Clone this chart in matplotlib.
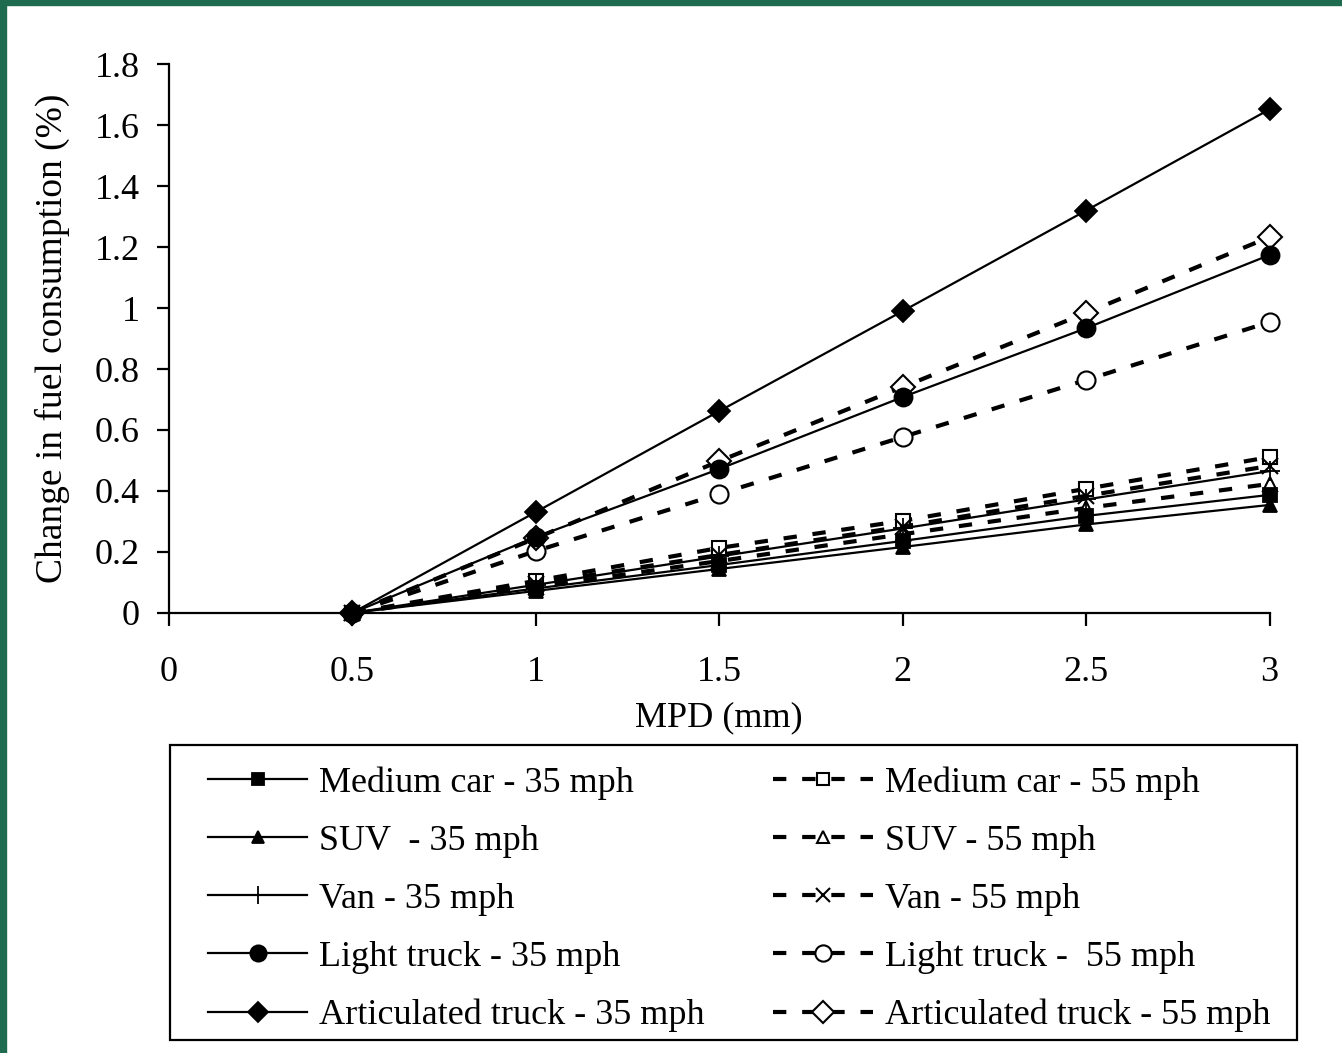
import numpy as np
import matplotlib.pyplot as plt
from matplotlib.patches import Rectangle

plt.rcParams['font.family'] = ['Liberation Serif', 'DejaVu Serif']

mpd = [0.5, 1, 1.5, 2, 2.5, 3]

# 35 mph series
medium_car_35 = [0.0, 0.080, 0.157, 0.236, 0.318, 0.387]
suv_35 = [0.0, 0.072, 0.144, 0.216, 0.290, 0.354]
van_35 = [0.0, 0.092, 0.185, 0.277, 0.372, 0.465]
light_truck_35 = [0.0, 0.249, 0.472, 0.708, 0.934, 1.174]
artic_truck_35 = [0.0, 0.331, 0.662, 0.990, 1.320, 1.652]

# 55 mph series
medium_car_55 = [0.0, 0.105, 0.213, 0.302, 0.407, 0.511]
suv_55 = [0.0, 0.085, 0.170, 0.258, 0.344, 0.423]
van_55 = [0.0, 0.096, 0.190, 0.283, 0.384, 0.482]
light_truck_55 = [0.0, 0.203, 0.390, 0.577, 0.764, 0.954]
artic_truck_55 = [0.0, 0.245, 0.498, 0.741, 0.984, 1.233]

labels_35 = ['Medium car - 35 mph', 'SUV  - 35 mph', 'Van - 35 mph',
             'Light truck - 35 mph', 'Articulated truck - 35 mph']
labels_55 = ['Medium car - 55 mph', 'SUV - 55 mph', 'Van - 55 mph',
             'Light truck -  55 mph', 'Articulated truck - 55 mph']

y_ticks = [0, 0.2, 0.4, 0.6, 0.8, 1, 1.2, 1.4, 1.6, 1.8]
x_ticks = [0, 0.5, 1, 1.5, 2, 2.5, 3]

series_35 = [medium_car_35, suv_35, van_35, light_truck_35, artic_truck_35]
series_55 = [medium_car_55, suv_55, van_55, light_truck_55, artic_truck_55]
markers = ['s', '^', '+', 'o', 'D']
msizes = [9.5, 10, 14, 13, 11.5]
# light truck on top so its dot shows at the shared 0.5 point
z_35 = [3.0, 3.0, 3.0, 3.2, 3.1]

fig = plt.figure(figsize=(13.42, 10.53), dpi=100)
ax = fig.add_axes([0.126, 0.418, 0.820, 0.521])

handles = {}
open_markers = ['s', '^', 'x', 'o', 'D']
open_sizes = [9.5, 10, 11, 13, 12]
for ys, lab, m, ms in zip(series_55, labels_55, open_markers, open_sizes):
    h, = ax.plot(mpd, ys, color='black', lw=3.0, dashes=(3.2, 3.8),
                 marker=m, markersize=ms, markerfacecolor='white',
                 markeredgecolor='black', mew=1.5, clip_on=False, zorder=2)
    handles[lab] = h

for ys, lab, m, ms, z in zip(series_35, labels_35, markers, msizes, z_35):
    h, = ax.plot(mpd, ys, color='black', lw=1.6, marker=m, markersize=ms,
                 markerfacecolor='black', markeredgecolor='black', mew=1.3,
                 clip_on=False, zorder=z)
    handles[lab] = h

ax.set_xlim(0, 3)
ax.set_ylim(0, 1.8)
ax.set_xticks(x_ticks)
ax.set_xticklabels(['0', '0.5', '1', '1.5', '2', '2.5', '3'])
ax.set_yticks(y_ticks)
ax.set_yticklabels(['0', '0.2', '0.4', '0.6', '0.8', '1', '1.2', '1.4', '1.6', '1.8'])
ax.spines['top'].set_visible(False)
ax.spines['right'].set_visible(False)
for s in ['left', 'bottom']:
    ax.spines[s].set_linewidth(1.6)
ax.tick_params(axis='both', direction='out', length=9, width=1.6,
               labelsize=26, colors='black')
ax.tick_params(axis='x', pad=22)
ax.tick_params(axis='y', pad=12)
ax.set_xlabel('MPD (mm)', fontsize=26, labelpad=9)
ax.set_ylabel('Change in fuel consumption (%)', fontsize=27, labelpad=18)

# legend box drawn separately so the padding inside it can be set freely
fig.patches.append(Rectangle((170 / 1342, 1 - 1040 / 1053), 1127 / 1342, 295 / 1053,
                             transform=fig.transFigure, fill=False,
                             edgecolor='black', linewidth=1.6))

order = [handles[l] for l in labels_35] + [handles[l] for l in labels_55]
leg = fig.legend(order, labels_35 + labels_55, ncol=2,
                 loc='upper left', bbox_to_anchor=(208 / 1342, 1 - 766 / 1053),
                 bbox_transform=fig.transFigure,
                 fontsize=26, frameon=False, markerscale=0.9,
                 handlelength=2.75, handletextpad=0.33, labelspacing=0.69,
                 columnspacing=1.9, borderpad=0, borderaxespad=0)

# green slide border along the top and left edges
green = '#1f6b50'
fig.patches.append(Rectangle((0, 0), 0.0045, 1, transform=fig.transFigure,
                             color=green, zorder=10))
fig.patches.append(Rectangle((0, 0.9955), 1, 0.0045, transform=fig.transFigure,
                             color=green, zorder=10))

fig.savefig('out.png', dpi=100)
